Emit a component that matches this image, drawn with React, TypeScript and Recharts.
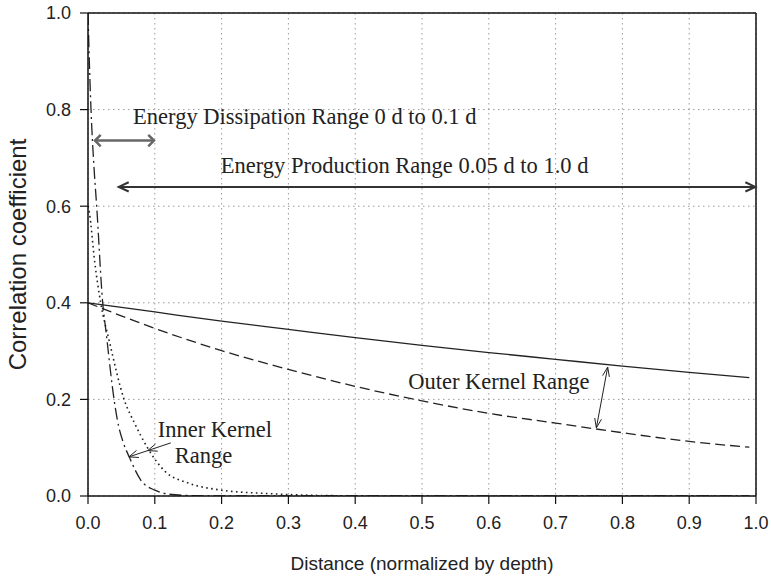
import React from 'react';
import { LineChart, Line, XAxis, YAxis, CartesianGrid, ReferenceLine, ReferenceDot } from 'recharts';

// ---- data ----
const xTicks = [0, 0.1, 0.2, 0.3, 0.4, 0.5, 0.6, 0.7, 0.8, 0.9, 1.0];
const yTicks = [0, 0.2, 0.4, 0.6, 0.8, 1.0];

const outerX = [0, 0.1, 0.2, 0.3, 0.4, 0.5, 0.6, 0.7, 0.8, 0.9, 0.99];
const solidY = [0.4, 0.381, 0.362, 0.345, 0.328, 0.312, 0.297, 0.283, 0.269, 0.256, 0.245];
const dashedY = [0.4, 0.347, 0.301, 0.262, 0.227, 0.197, 0.171, 0.151, 0.131, 0.113, 0.101];

const dashDotX = [0, 0.002, 0.0045, 0.009, 0.013, 0.022, 0.027, 0.039, 0.044, 0.053, 0.062, 0.079, 0.1, 0.12, 0.15, 0.2, 0.5, 0.99];
const dashDotY = [1.0, 0.9, 0.8, 0.68, 0.6, 0.4, 0.34, 0.2, 0.157, 0.11, 0.08, 0.033, 0.012, 0.004, 0.001, 0, 0, 0];

const dottedX = [0, 0.002, 0.01, 0.019, 0.032, 0.054, 0.07, 0.089, 0.116, 0.15, 0.2, 0.27, 0.35, 0.45, 0.99];
const dottedY = [0.6, 0.587, 0.485, 0.4, 0.32, 0.2, 0.15, 0.1, 0.05, 0.027, 0.012, 0.005, 0.001, 0, 0];

const zip = (xs: number[], ys: number[]) => xs.map((x, i) => ({ x, y: ys[i] }));
const solidData = zip(outerX, solidY);
const dashedData = zip(outerX, dashedY);
const dashDotData = zip(dashDotX, dashDotY);
const dottedData = zip(dottedX, dottedY);

const SERIF = '"Liberation Serif", "Times New Roman", serif';
const SANS = '"Liberation Sans", Arial, sans-serif';

// arrow shape for ReferenceLine segments
type Head = { t: number; back?: boolean };
type ArrowOpts = { color: string; width: number; len: number; ang: number; heads: Head[]; headWidth?: number };
const chevron = (tx: number, ty: number, ux: number, uy: number, len: number, ang: number) => {
  const a = (ang * Math.PI) / 180;
  const c = Math.cos(a), s = Math.sin(a);
  const bx = -ux, by = -uy;
  const p1x = tx + len * (bx * c - by * s), p1y = ty + len * (bx * s + by * c);
  const p2x = tx + len * (bx * c + by * s), p2y = ty + len * (-bx * s + by * c);
  return `${p1x},${p1y} ${tx},${ty} ${p2x},${p2y}`;
};
const makeArrow = (o: ArrowOpts) => (props: any) => {
  const { x1, y1, x2, y2 } = props;
  const dx = x2 - x1, dy = y2 - y1;
  const L = Math.sqrt(dx * dx + dy * dy) || 1;
  const ux = dx / L, uy = dy / L;
  return (
    <g>
      <line x1={x1} y1={y1} x2={x2} y2={y2} stroke={o.color} strokeWidth={o.width} />
      {o.heads.map((h, i) => {
        const tx = x1 + dx * h.t, ty = y1 + dy * h.t;
        const sx = h.back ? -ux : ux, sy = h.back ? -uy : uy;
        return (
          <polyline key={i} points={chevron(tx, ty, sx, sy, o.len, o.ang)} fill="none"
            stroke={o.color} strokeWidth={o.headWidth ?? o.width} strokeLinejoin="miter" />
        );
      })}
    </g>
  );
};

const makeText = (text: string, anchor: string) => (props: any) => (
  <text x={props.cx} y={props.cy} dy="0.35em" textAnchor={anchor} fontFamily={SERIF} fontSize={22.5} fill="#222">
    {text}
  </text>
);

export default function App() {
  return (
    <div style={{ position: 'absolute', left: 0, top: 0, width: 771, height: 579, background: '#fff' }}>
      <LineChart width={771} height={579} margin={{ top: 13, right: 15, left: 0, bottom: 0 }}>
        <CartesianGrid stroke="#9a9a9a" strokeDasharray="1.5 3.5" strokeWidth={1} />
        <XAxis
          type="number"
          dataKey="x"
          domain={[0, 1]}
          ticks={xTicks}
          allowDataOverflow
          height={83}
          tickSize={8}
          tickMargin={12}
          tickFormatter={(v: number) => v.toFixed(1)}
          tick={{ fontFamily: SANS, fontSize: 18, fill: '#222' }}
          axisLine={{ stroke: '#111', strokeWidth: 1.5 }}
          tickLine={{ stroke: '#111', strokeWidth: 1.2 }}
          label={{ value: 'Distance (normalized by depth)', position: 'insideBottom', offset: 9, style: { fontFamily: SANS, fontSize: 19, fill: '#222' } }}
        />
        <YAxis
          type="number"
          dataKey="y"
          domain={[0, 1]}
          ticks={yTicks}
          allowDataOverflow
          width={88}
          tickSize={8}
          tickMargin={9}
          tickFormatter={(v: number) => v.toFixed(1)}
          tick={{ fontFamily: SANS, fontSize: 18, fill: '#222' }}
          axisLine={{ stroke: '#111', strokeWidth: 1.5 }}
          tickLine={{ stroke: '#111', strokeWidth: 1.2 }}
          label={{ value: 'Correlation coefficient', angle: -90, position: 'insideLeft', offset: 17, style: { textAnchor: 'middle', fontFamily: SANS, fontSize: 24, fill: '#222' } }}
        />
        <ReferenceLine y={1} stroke="#111" strokeWidth={1.5} />
        <ReferenceLine x={1} stroke="#111" strokeWidth={1.5} />

        <Line data={solidData} dataKey="y" type="monotone" stroke="#222" strokeWidth={1.3} dot={false} activeDot={false} isAnimationActive={false} />
        <Line data={dashedData} dataKey="y" type="monotone" stroke="#222" strokeWidth={1.3} strokeDasharray="10 5" dot={false} activeDot={false} isAnimationActive={false} />
        <Line data={dottedData} dataKey="y" type="monotone" stroke="#222" strokeWidth={1.6} strokeDasharray="1.6 3.4" dot={false} activeDot={false} isAnimationActive={false} />
        <Line data={dashDotData} dataKey="y" type="monotone" stroke="#222" strokeWidth={1.3} strokeDasharray="12 4 2 4" dot={false} activeDot={false} isAnimationActive={false} />

        {/* Energy dissipation arrow */}
        <ReferenceLine segment={[{ x: 0.0105, y: 0.7358 }, { x: 0.0987, y: 0.7358 }]} ifOverflow="visible"
          shape={makeArrow({ color: '#666', width: 2.5, len: 8, ang: 45, heads: [{ t: 1 }, { t: 0, back: true }] })} />
        {/* Energy production arrow */}
        <ReferenceLine segment={[{ x: 0.046, y: 0.64 }, { x: 0.999, y: 0.64 }]} ifOverflow="visible"
          shape={makeArrow({ color: '#333', width: 2, len: 11, ang: 25, heads: [{ t: 1 }, { t: 0, back: true }] })} />
        {/* Inner kernel arrow */}
        <ReferenceLine segment={[{ x: 0.124, y: 0.11 }, { x: 0.0613, y: 0.081 }]} ifOverflow="visible"
          shape={makeArrow({ color: '#222', width: 1, len: 10, ang: 22, heads: [{ t: 0.55 }, { t: 1 }] })} />
        {/* Outer kernel arrow */}
        <ReferenceLine segment={[{ x: 0.778, y: 0.267 }, { x: 0.761, y: 0.141 }]} ifOverflow="visible"
          shape={makeArrow({ color: '#222', width: 1, len: 10, ang: 20, heads: [{ t: 1 }, { t: 0, back: true }] })} />

        <ReferenceDot x={0.3245} y={0.7855} r={0} ifOverflow="visible" shape={makeText('Energy Dissipation Range 0 d to 0.1 d', 'middle')} />
        <ReferenceDot x={0.474} y={0.686} r={0} ifOverflow="visible" shape={makeText('Energy Production Range 0.05 d to 1.0 d', 'middle')} />
        <ReferenceDot x={0.19} y={0.139} r={0} ifOverflow="visible" shape={makeText('Inner Kernel', 'middle')} />
        <ReferenceDot x={0.173} y={0.085} r={0} ifOverflow="visible" shape={makeText('Range', 'middle')} />
        <ReferenceDot x={0.7506} y={0.238} r={0} ifOverflow="visible" shape={makeText('Outer Kernel Range', 'end')} />
      </LineChart>
    </div>
  );
}
